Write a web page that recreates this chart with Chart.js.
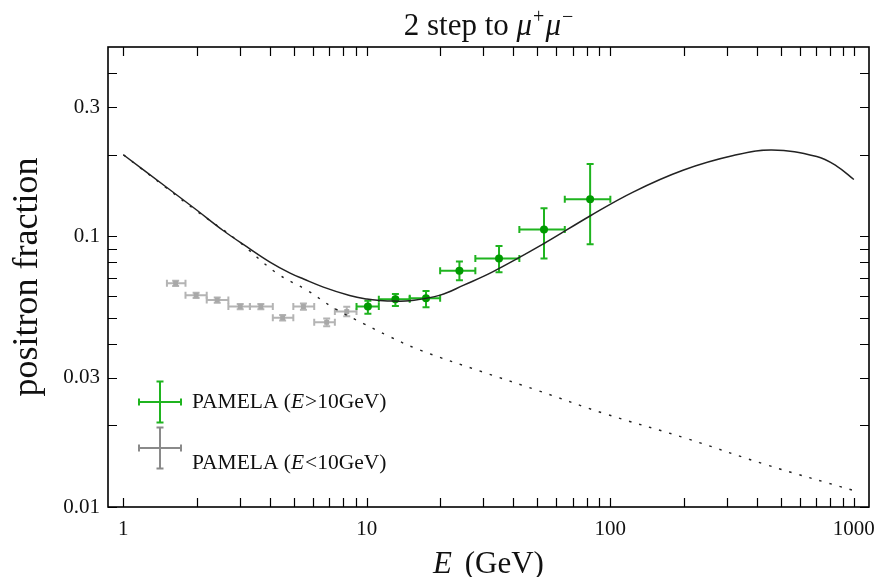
<!DOCTYPE html>
<html>
<head>
<meta charset="utf-8">
<script src="https://cdn.jsdelivr.net/npm/chart.js@4.4.1/dist/chart.umd.min.js"></script>
<style>
  body { margin: 0; background: #fff; }
  canvas { display: block; }
</style>
</head>
<body>
<canvas id="chart" width="877" height="577"></canvas>
<script>
// model curves
const totalE = [1, 1.5, 2, 2.57, 3.21, 4, 4.84, 5.5, 6.63, 8.5, 10, 11.3, 13, 15, 20, 25, 33, 53, 82.5, 124, 200, 320, 460, 704, 850, 1000];
const totalFrac = [0.2, 0.152, 0.125, 0.105, 0.0915, 0.0803, 0.0731, 0.0695, 0.0649, 0.0604, 0.0586, 0.0579, 0.0576, 0.0578, 0.0606, 0.066, 0.074, 0.0936, 0.1188, 0.1456, 0.1756, 0.1986, 0.2081, 0.197, 0.1816, 0.162];

const bgE = [1, 1.5, 2, 2.92, 4.27, 5.66, 7.4, 9.68, 12.4, 16.5, 30, 50, 93.6, 206, 439, 1000];
const bgFrac = [0.2, 0.151, 0.124, 0.097, 0.073, 0.0633, 0.054, 0.0476, 0.0426, 0.038, 0.0315, 0.027, 0.0222, 0.0179, 0.0143, 0.0115];

// PAMELA E > 10 GeV
const pamHiE = [10.1, 13.1, 17.5, 24.0, 34.9, 53.4, 82.6];
const pamHiFrac = [0.055, 0.0585, 0.059, 0.0746, 0.0828, 0.106, 0.137];
const pamHiElo = [9.07, 11.2, 15.0, 20.0, 27.9, 42.3, 65.0];
const pamHiEhi = [11.2, 15.0, 20.0, 27.9, 42.3, 65.0, 100];
const pamHiFlo = [0.0517, 0.0552, 0.0547, 0.0688, 0.0737, 0.0828, 0.0935];
const pamHiFhi = [0.0578, 0.0612, 0.0628, 0.0806, 0.0921, 0.127, 0.185];

// PAMELA E < 10 GeV
const pamLoE = [1.64, 1.99, 2.43, 3.02, 3.67, 4.51, 5.49, 6.84, 8.27];
const pamLoFrac = [0.067, 0.0605, 0.0581, 0.055, 0.055, 0.050, 0.055, 0.0481, 0.0527];
const pamLoElo = [1.51, 1.80, 2.20, 2.70, 3.31, 4.11, 4.99, 6.08, 7.39];
const pamLoEhi = [1.80, 2.20, 2.70, 3.31, 4.11, 4.99, 6.08, 7.39, 9.07];
const pamLoFlo = [0.0655, 0.0592, 0.0568, 0.0538, 0.0538, 0.0488, 0.0535, 0.0465, 0.0506];
const pamLoFhi = [0.0685, 0.0618, 0.0594, 0.0562, 0.0562, 0.0512, 0.0565, 0.0497, 0.0549];

// ticks
const xTickLabels = [1, 10, 100, 1000];
const xMinorTicks = [2, 3, 4, 5, 6, 7, 8, 9, 20, 30, 40, 50, 60, 70, 80, 90, 200, 300, 400, 500, 600, 700, 800, 900];
const yTickLabels = [0.01, 0.03, 0.1, 0.3];
const yMinorTicks = [0.02, 0.04, 0.05, 0.06, 0.07, 0.08, 0.09, 0.2, 0.4];

const SERIF = '"Liberation Serif", "DejaVu Serif", serif';
const GREEN_BAR = '#1fb41f';
const GREEN_DOT = '#009a00';
const GRAY_BAR = '#b4b4b4';
const GRAY_DOT = '#a8a8a8';
const LEGEND_GRAY = '#8a8a8a';

function pts(xs, ys) {
    return xs.map((x, i) => ({ x: x, y: ys[i] }));
}

function drawErrorBars(ctx, xs, ys, xlo, xhi, ylo, yhi, xScale, yScale, color) {
    ctx.save();
    ctx.strokeStyle = color;
    ctx.lineWidth = 2;
    const cap = 3.5;
    xs.forEach((x, i) => {
        const px = xScale.getPixelForValue(x);
        const py = yScale.getPixelForValue(ys[i]);
        const x0 = xScale.getPixelForValue(xlo[i]);
        const x1 = xScale.getPixelForValue(xhi[i]);
        const y0 = yScale.getPixelForValue(ylo[i]);
        const y1 = yScale.getPixelForValue(yhi[i]);
        ctx.beginPath();
        ctx.moveTo(x0, py); ctx.lineTo(x1, py);
        ctx.moveTo(x0, py - cap); ctx.lineTo(x0, py + cap);
        ctx.moveTo(x1, py - cap); ctx.lineTo(x1, py + cap);
        ctx.moveTo(px, y0); ctx.lineTo(px, y1);
        ctx.moveTo(px - cap, y0); ctx.lineTo(px + cap, y0);
        ctx.moveTo(px - cap, y1); ctx.lineTo(px + cap, y1);
        ctx.stroke();
    });
    ctx.restore();
}

function drawCross(ctx, cx, cy, hw, hh, color) {
    ctx.save();
    ctx.strokeStyle = color;
    ctx.lineWidth = 2;
    const cap = 3.5;
    ctx.beginPath();
    ctx.moveTo(cx - hw, cy); ctx.lineTo(cx + hw, cy);
    ctx.moveTo(cx - hw, cy - cap); ctx.lineTo(cx - hw, cy + cap);
    ctx.moveTo(cx + hw, cy - cap); ctx.lineTo(cx + hw, cy + cap);
    ctx.moveTo(cx, cy - hh); ctx.lineTo(cx, cy + hh);
    ctx.moveTo(cx - cap, cy - hh); ctx.lineTo(cx + cap, cy - hh);
    ctx.moveTo(cx - cap, cy + hh); ctx.lineTo(cx + cap, cy + hh);
    ctx.stroke();
    ctx.restore();
}

// draws a list of [text, font, dy, extra gap] pieces starting at x
function drawPieces(ctx, pieces, x, y) {
    pieces.forEach(p => {
        ctx.font = p[1];
        ctx.fillText(p[0], x, y + (p[2] || 0));
        x += ctx.measureText(p[0]).width + (p[3] || 0);
    });
}

function piecesWidth(ctx, pieces) {
    let w = 0;
    pieces.forEach(p => {
        ctx.font = p[1];
        w += ctx.measureText(p[0]).width + (p[3] || 0);
    });
    return w;
}

const errorBars = {
    id: 'errorBars',
    beforeDatasetsDraw(chart) {
        const { ctx, scales: { x, y } } = chart;
        drawErrorBars(ctx, pamLoE, pamLoFrac, pamLoElo, pamLoEhi, pamLoFlo, pamLoFhi, x, y, GRAY_BAR);
        drawErrorBars(ctx, pamHiE, pamHiFrac, pamHiElo, pamHiEhi, pamHiFlo, pamHiFhi, x, y, GREEN_BAR);
    }
};

const frameAndText = {
    id: 'frameAndText',
    afterDraw(chart) {
        const { ctx, chartArea: a, scales: { x, y } } = chart;
        ctx.save();
        // frame
        ctx.strokeStyle = '#000';
        ctx.lineWidth = 1.6;
        ctx.strokeRect(a.left, a.top, a.right - a.left, a.bottom - a.top);

        // inward ticks on all four sides
        const tl = 9;
        ctx.lineWidth = 1.2;
        ctx.beginPath();
        xTickLabels.concat(xMinorTicks).forEach(v => {
            const px = Math.round(x.getPixelForValue(v)) + 0.5;
            ctx.moveTo(px, a.bottom); ctx.lineTo(px, a.bottom - tl);
            ctx.moveTo(px, a.top); ctx.lineTo(px, a.top + tl);
        });
        yTickLabels.concat(yMinorTicks).forEach(v => {
            const py = Math.round(y.getPixelForValue(v)) + 0.5;
            ctx.moveTo(a.left, py); ctx.lineTo(a.left + tl, py);
            ctx.moveTo(a.right, py); ctx.lineTo(a.right - tl, py);
        });
        ctx.stroke();

        ctx.fillStyle = '#111';
        ctx.textBaseline = 'alphabetic';

        // title
        const tSize = 31;
        const norm = `${tSize}px ${SERIF}`;
        const ital = `italic ${tSize}px ${SERIF}`;
        const sup = `20px ${SERIF}`;
        const title = [['2 step to ', norm], ['\u03BC', ital, 0, 1], ['+', sup, -12, 1], ['\u03BC', ital, 0, 1], ['\u2212', sup, -12]];
        const tw = piecesWidth(ctx, title);
        drawPieces(ctx, title, (a.left + a.right) / 2 - tw / 2, 35);

        // x axis title
        const xt = [['E', `italic 31px ${SERIF}`, 0, 5], [' (GeV)', `31px ${SERIF}`]];
        const xw = piecesWidth(ctx, xt);
        drawPieces(ctx, xt, (a.left + a.right) / 2 - xw / 2, 573);

        // legend
        const lx = a.left + 52;
        drawCross(ctx, lx, a.top + 355, 21, 20.5, GREEN_BAR);
        drawCross(ctx, lx, a.top + 401, 21, 20.5, LEGEND_GRAY);
        ctx.fillStyle = '#111';
        const lf = `21.5px ${SERIF}`;
        const lfi = `italic 21.5px ${SERIF}`;
        drawPieces(ctx, [['PAMELA (', lf], ['E', lfi, 0, 1], ['>10GeV)', lf]], a.left + 84, a.top + 361);
        drawPieces(ctx, [['PAMELA (', lf], ['E', lfi, 0, 1], ['<10GeV)', lf]], a.left + 84, a.top + 422);
        ctx.restore();
    }
};

const ctx = document.getElementById('chart').getContext('2d');
new Chart(ctx, {
    type: 'scatter',
    data: {
        datasets: [
            {
                label: 'total',
                type: 'line',
                data: pts(totalE, totalFrac),
                borderColor: '#222',
                borderWidth: 1.5,
                pointRadius: 0,
                tension: 0.4,
                fill: false
            },
            {
                label: 'background',
                type: 'line',
                data: pts(bgE, bgFrac),
                borderColor: '#222',
                borderWidth: 1.4,
                borderDash: [2.5, 8],
                pointRadius: 0,
                tension: 0.4,
                fill: false
            },
            {
                label: 'PAMELA (E<10GeV)',
                data: pts(pamLoE, pamLoFrac),
                pointRadius: 3.5,
                pointStyle: 'rect',
                backgroundColor: GRAY_DOT,
                borderWidth: 0
            },
            {
                label: 'PAMELA (E>10GeV)',
                data: pts(pamHiE, pamHiFrac),
                pointRadius: 4,
                backgroundColor: GREEN_DOT,
                borderWidth: 0
            }
        ]
    },
    options: {
        responsive: false,
        animation: false,
        layout: { padding: { top: 47, right: 8, left: 0, bottom: 0 } },
        plugins: {
            legend: { display: false },
            tooltip: { enabled: false },
            title: { display: false }
        },
        scales: {
            x: {
                type: 'logarithmic',
                min: 0.865,
                max: 1154,
                grid: { display: false, drawTicks: false },
                border: { display: false },
                ticks: {
                    font: { family: SERIF, size: 21 },
                    color: '#111',
                    padding: 10,
                    maxRotation: 0,
                    autoSkip: false,
                    callback: (v) => String(v)
                },
                afterBuildTicks: (scale) => {
                    scale.ticks = xTickLabels.map(v => ({ value: v }));
                },
                afterFit: (scale) => {
                    scale.height = 70;
                    scale.paddingLeft = 0;
                    scale.paddingRight = 0;
                }
            },
            y: {
                type: 'logarithmic',
                min: 0.01,
                max: 0.5,
                grid: { display: false, drawTicks: false },
                border: { display: false },
                ticks: {
                    font: { family: SERIF, size: 21 },
                    color: '#111',
                    padding: 8,
                    autoSkip: false,
                    callback: (v) => String(v)
                },
                title: {
                    display: true,
                    text: 'positron fraction',
                    font: { family: SERIF, size: 36 },
                    color: '#111',
                    padding: { top: 6, bottom: 0 }
                },
                afterBuildTicks: (scale) => {
                    scale.ticks = yTickLabels.map(v => ({ value: v }));
                },
                afterFit: (scale) => {
                    scale.width = 108;
                    scale.paddingTop = 0;
                    scale.paddingBottom = 0;
                }
            }
        }
    },
    plugins: [errorBars, frameAndText]
});
</script>
</body>
</html>
